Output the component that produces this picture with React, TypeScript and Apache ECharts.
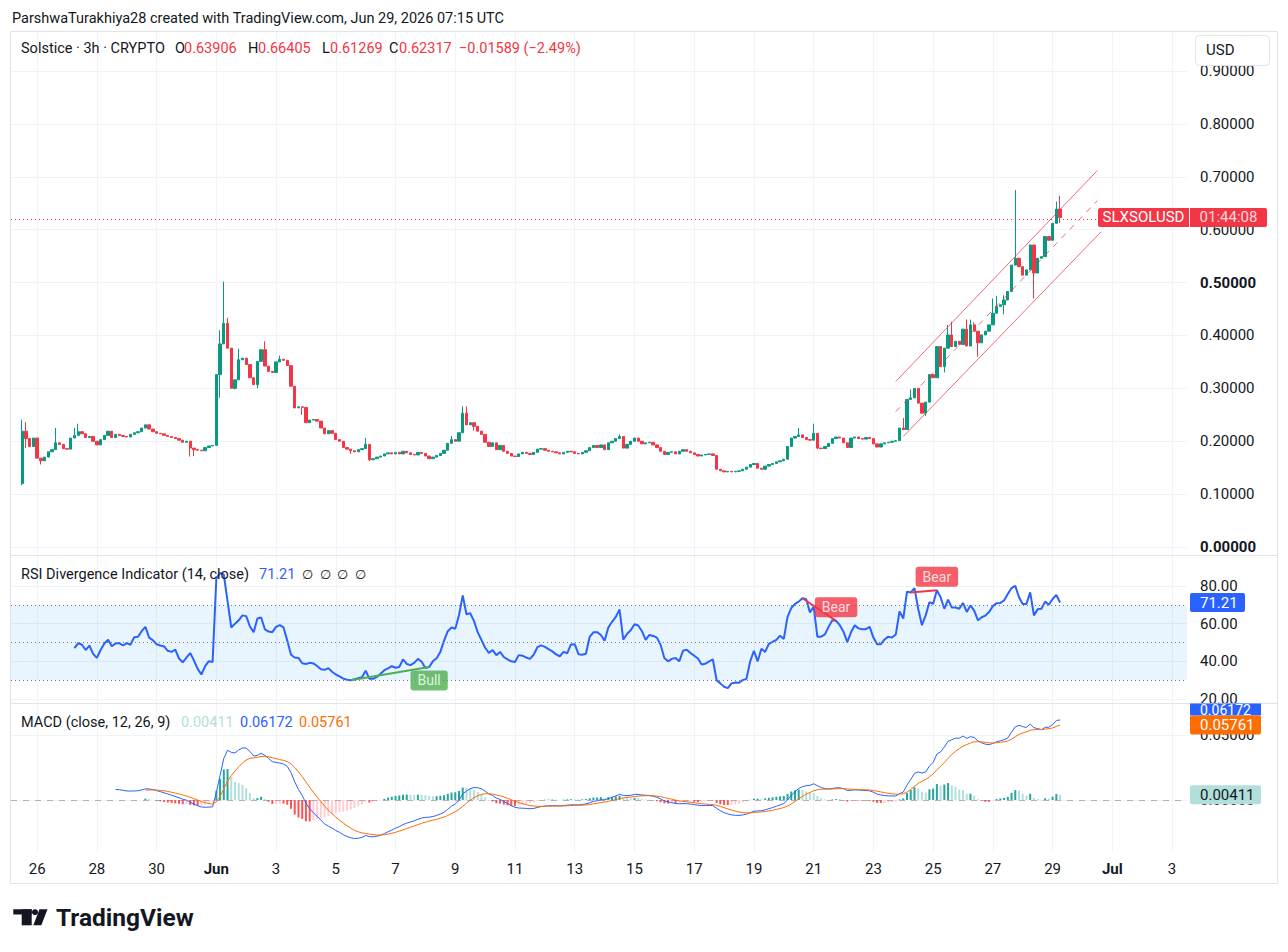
import React, { useEffect, useRef } from "react";
import * as echarts from "echarts";

const FONT = 'Roboto, "Noto Sans", "DejaVu Sans", sans-serif';
const TEXT = "#131722";
const UP = "#089981";
const DOWN = "#f23645";
const GRID = "#f0f3fa";
const BORDER = "#e0e3eb";
const BLUE = "#2962ff";
const ORANGE = "#ff6d00";

// ---- x axis: 3h bars, 3 empty slots before the first bar, empty slots after the last
const LEAD = 3;
const N_CATS = 316;
const X_TICK_FIRST = 7; // May 26 00:00
const X_TICK_STEP = 16; // 2 days of 3h bars
const X_TICK_LABELS = ["26", "28", "30", "Jun", "3", "5", "7", "9", "11", "13", "15", "17", "19", "21", "23", "25", "27", "29", "Jul", "3"];
const MONTH_LABELS = ["Jun", "Jul"];

// ---- price (3h closes, bar 0 = May 25 12:00)
const FIRST_OPEN = 0.12;
const CLOSES = [
  0.219, 0.205, 0.19, 0.206, 0.168, 0.163, 0.17, 0.18, 0.184, 0.197,
  0.194, 0.186, 0.185, 0.206, 0.211, 0.218, 0.214, 0.207, 0.209, 0.2,
  0.193, 0.203, 0.211, 0.219, 0.207, 0.213, 0.211, 0.209, 0.208, 0.213,
  0.216, 0.218, 0.225, 0.231, 0.223, 0.218, 0.215, 0.214, 0.211, 0.209,
  0.207, 0.205, 0.202, 0.198, 0.2, 0.187, 0.184, 0.183, 0.182, 0.188,
  0.191, 0.192, 0.326, 0.384, 0.423, 0.376, 0.3, 0.316, 0.354, 0.357,
  0.345, 0.32, 0.307, 0.351, 0.373, 0.342, 0.332, 0.33, 0.35, 0.355,
  0.353, 0.343, 0.304, 0.263, 0.265, 0.264, 0.235, 0.24, 0.241, 0.238,
  0.225, 0.214, 0.22, 0.215, 0.203, 0.2, 0.188, 0.185, 0.182, 0.18,
  0.184, 0.186, 0.194, 0.165, 0.167, 0.17, 0.172, 0.176, 0.178, 0.176,
  0.179, 0.176, 0.181, 0.178, 0.175, 0.174, 0.179, 0.177, 0.172, 0.167,
  0.17, 0.173, 0.177, 0.183, 0.196, 0.203, 0.2, 0.216, 0.253, 0.231,
  0.235, 0.228, 0.219, 0.213, 0.198, 0.19, 0.197, 0.184, 0.192, 0.181,
  0.177, 0.172, 0.171, 0.176, 0.179, 0.177, 0.175, 0.179, 0.185, 0.186,
  0.183, 0.181, 0.18, 0.178, 0.176, 0.179, 0.181, 0.18, 0.177, 0.176,
  0.179, 0.182, 0.188, 0.192, 0.188, 0.193, 0.184, 0.197, 0.2, 0.205,
  0.209, 0.187, 0.194, 0.2, 0.206, 0.2, 0.195, 0.197, 0.198, 0.193,
  0.188, 0.181, 0.175, 0.179, 0.18, 0.176, 0.181, 0.184, 0.181, 0.178,
  0.175, 0.172, 0.174, 0.175, 0.176, 0.173, 0.147, 0.144, 0.142, 0.143,
  0.142, 0.143, 0.144, 0.147, 0.151, 0.156, 0.158, 0.149, 0.147, 0.153,
  0.156, 0.158, 0.161, 0.163, 0.166, 0.19, 0.206, 0.209, 0.212, 0.207,
  0.203, 0.202, 0.215, 0.187, 0.186, 0.19, 0.196, 0.205, 0.208, 0.206,
  0.197, 0.188, 0.206, 0.208, 0.205, 0.204, 0.207, 0.205, 0.195, 0.189,
  0.195, 0.197, 0.198, 0.2, 0.201, 0.225, 0.222, 0.279, 0.282, 0.3,
  0.272, 0.253, 0.274, 0.326, 0.32, 0.379, 0.341, 0.376, 0.401, 0.379,
  0.389, 0.383, 0.412, 0.38, 0.42, 0.408, 0.386, 0.401, 0.408, 0.42,
  0.442, 0.455, 0.458, 0.467, 0.483, 0.533, 0.546, 0.53, 0.514, 0.524,
  0.571, 0.518, 0.546, 0.549, 0.587, 0.58, 0.612, 0.63906, 0.62317,
];
const WICK_HIGHS: [number, number][] = [
  [0, 0.241], [1, 0.236], [9, 0.225], [14, 0.225], [15, 0.233], [53, 0.41], [54, 0.502], [55, 0.433],
  [58, 0.375], [65, 0.389], [69, 0.362], [92, 0.206], [115, 0.21], [118, 0.266], [119, 0.266],
  [160, 0.213], [208, 0.225], [212, 0.233], [236, 0.244], [238, 0.298], [248, 0.42], [249, 0.426],
  [253, 0.43], [254, 0.43], [255, 0.425], [260, 0.47], [261, 0.475], [263, 0.476], [266, 0.675],
  [277, 0.653], [278, 0.66405],
];
const WICK_LOWS: [number, number][] = [
  [0, 0.117], [1, 0.187], [5, 0.156], [45, 0.171], [46, 0.172], [53, 0.282], [57, 0.298], [63, 0.3],
  [75, 0.25], [88, 0.176], [93, 0.162], [121, 0.22], [213, 0.185], [242, 0.248], [247, 0.33],
  [256, 0.36], [263, 0.44], [271, 0.47], [278, 0.61269],
];

// ---- RSI (14), first value at bar 14
const RSI_START = 14;
const RSI_VALUES = [
  47, 49.7, 48.8, 46, 48.4, 44, 41.8, 46, 49.5, 51.5,
  48, 49.5, 49.7, 48.4, 49.7, 48.8, 52.8, 53, 56, 58.3,
  52.6, 51.2, 49.1, 48.4, 47.9, 45.6, 45, 46.2, 41.5, 39.5,
  42, 44.4, 40.5, 36, 33, 37.5, 40.1, 39.7,
  84, 87, 86, 72, 58,
  60, 61.8, 64.4, 64, 58.5, 55.5, 62.7, 63.3, 57, 55.8,
  55.5, 58.3, 59.2, 58, 51, 43.5, 42, 41.8, 39, 38.6,
  39.2, 38.9, 37.5, 35.8, 35.5, 36.4, 34.5, 33, 32, 30.8,
  30.2, 30, 30.5, 31, 31.5, 35, 30.8, 30.7, 31.7, 33.4,
  35.3, 36.3, 37.4, 36.6, 37, 41, 38.6, 38, 39.2, 41.3,
  39.8, 36.5, 37, 40, 41.6, 45, 51, 56, 58, 57.3,
  64.5, 75, 65, 65.5, 61.5, 55.5, 51.4, 47.2, 44.5, 46,
  43.3, 45, 42.3, 41, 40, 39.7, 43.3, 43, 42, 41.3,
  43.5, 47.5, 48.5, 47.7, 46.5, 45.3, 43.7, 42.7, 45, 44.3,
  49, 49.1, 43.8, 43.5, 44, 53, 55.4, 55.5, 54, 51,
  58, 61, 63.6, 67.5, 51.5, 54.5, 56.5, 59.7, 59, 56,
  51.4, 54, 53.5, 52.6, 48.8, 41.8, 40, 41.3, 41.8, 40,
  45.6, 46.2, 44.4, 43, 41.5, 38.3, 38.7, 40, 41, 30,
  28.3, 26.5, 25.8, 28.3, 28.8, 28.6, 30, 30.7, 40, 45.6,
  40, 46.7, 45, 49.3, 50.3, 51.4, 53.6, 51.9, 63.6, 68.3,
  70.5, 71.7, 73.5, 73, 66, 69, 53, 53.1, 54.3, 58.3,
  61.8, 61.5, 59.2, 55.7, 50.2, 55.4, 59.2, 57.5, 57, 57.1,
  58.3, 52.6, 49.1, 49.1, 51.6, 53.1, 52.6, 54.3, 66.5, 62.7,
  77, 76.6, 78.9, 67.9, 59.2, 64.4, 71.4, 70.5, 77.8, 74,
  67.9, 72.8, 68.6, 68.6, 67.9, 71, 66.2, 69.7, 66.9, 61.8,
  63.4, 64.3, 66.2, 69.3, 70.9, 71, 72.3, 75.7, 78.9, 80.1,
  74, 70.5, 70.5, 76.6, 64.4, 67.6, 67.9, 71.7, 70, 73.1,
  75.2, 71.21,
];

// ---- drawings (bar index, value)
const CHANNEL_UPPER: [number, number][] = [[234, 0.313], [288, 0.712]];
const CHANNEL_MID: [number, number][] = [[234, 0.256], [288, 0.655]];
const CHANNEL_LOWER: [number, number][] = [[236, 0.209], [289, 0.596]];
const BULL_DIV: [number, number][] = [[88, 30], [109, 37]];
const BEAR_DIV_1: [number, number][] = [[209, 73.5], [218, 61.5]];
const BEAR_DIV_2: [number, number][] = [[238, 76.6], [245, 77.8]];

// ---- legend values
const LAST_OHLC = { o: "0.63906", h: "0.66405", l: "0.61269", c: "0.62317", chg: "−0.01589 (−2.49%)" };
const LAST_CLOSE = 0.62317;
const RSI_LAST = 71.21;
const MACD_LAST = { hist: 0.00411, macd: 0.06172, signal: 0.05761 };

function ema(src: (number | null)[], len: number): (number | null)[] {
  const out: (number | null)[] = src.map(() => null);
  const a = 2 / (len + 1);
  let prev: number | null = null;
  const buf: number[] = [];
  src.forEach((v, i) => {
    if (v == null) return;
    if (prev == null) {
      buf.push(v);
      if (buf.length === len) {
        prev = buf.reduce((s, x) => s + x, 0) / len;
        out[i] = prev;
      }
    } else {
      prev = a * v + (1 - a) * prev;
      out[i] = prev;
    }
  });
  return out;
}

function isTick(k: number) {
  return k >= X_TICK_FIRST && (k - X_TICK_FIRST) % X_TICK_STEP === 0 && (k - X_TICK_FIRST) / X_TICK_STEP < X_TICK_LABELS.length;
}

export default function App() {
  const ref = useRef<HTMLDivElement>(null);

  useEffect(() => {
    document.body.style.margin = "0";
    const el = ref.current!;
    const chart = echarts.init(el, undefined, { renderer: "svg" });

    const cats = Array.from({ length: N_CATS }, (_, k) => String(k));
    const hiMap = new Map(WICK_HIGHS);
    const loMap = new Map(WICK_LOWS);
    const candles = CLOSES.map((c, i) => {
      const o = i === 0 ? FIRST_OPEN : CLOSES[i - 1];
      const h = Math.max(o, c, hiMap.get(i) ?? 0);
      const l = Math.min(o, c, loMap.get(i) ?? 99);
      return [i + LEAD, o, c, l, h];
    });

    const rsiData = RSI_VALUES.map((v, j) => [RSI_START + j + LEAD, v]);

    const fast = ema(CLOSES, 12);
    const slow = ema(CLOSES, 26);
    const macd = CLOSES.map((_, i) => (fast[i] != null && slow[i] != null ? (fast[i] as number) - (slow[i] as number) : null));
    const signal = ema(macd, 9);
    const hist = macd.map((m, i) => (m != null && signal[i] != null ? m - (signal[i] as number) : null));
    const macdData = macd.map((v, i) => (v == null ? null : [i + LEAD, v])).filter(Boolean);
    const sigData = signal.map((v, i) => (v == null ? null : [i + LEAD, v])).filter(Boolean);
    const histData: any[] = [];
    hist.forEach((h, i) => {
      if (h == null) return;
      const p = hist[i - 1];
      let color: string;
      if (h >= 0) color = p == null || h > p ? "#26a69a" : "#b2dfdb";
      else color = p == null || h < p ? "#ff5252" : "#ffcdd2";
      histData.push({ value: [i + LEAD, h], itemStyle: { color } });
    });

    const shift = (pts: [number, number][]) => pts.map(([i, v]) => [i + LEAD, v]);

    const gridBase = { left: 11, width: 1176 };
    const hiddenX = (gi: number) => ({
      gridIndex: gi, type: "category", data: cats, boundaryGap: false, show: false,
    });
    const axisLabel = { color: TEXT, fontSize: 15, fontFamily: FONT, margin: 13, align: "left" };

    const option: any = {
      animation: false,
      backgroundColor: "#ffffff",
      textStyle: { fontFamily: FONT },
      grid: [
        { ...gridBase, top: 32, height: 820 },
        { ...gridBase, top: 71, height: 476 },
        { ...gridBase, top: 586, height: 113 },
        { ...gridBase, top: 735, height: 65 },
      ],
      xAxis: [
        {
          gridIndex: 0, type: "category", data: cats, boundaryGap: false,
          axisLine: { show: false }, axisTick: { show: false },
          axisLabel: {
            interval: (k: number) => isTick(k),
            formatter: (_v: string, k: number) => {
              if (!isTick(k)) return "";
              const s = X_TICK_LABELS[(k - X_TICK_FIRST) / X_TICK_STEP];
              return MONTH_LABELS.includes(s) ? `{m|${s}}` : s;
            },
            color: TEXT, fontSize: 15, fontFamily: FONT, margin: 9,
            rich: { m: { fontWeight: "bold", fontSize: 15, color: TEXT, fontFamily: FONT } },
          },
          splitLine: { show: true, interval: (k: number) => isTick(k), lineStyle: { color: GRID, width: 1 } },
        },
        hiddenX(1), hiddenX(2), hiddenX(3),
      ],
      yAxis: [
        { gridIndex: 0, type: "value", min: 0, max: 1, show: false },
        {
          gridIndex: 1, type: "value", position: "right", min: 0, max: 0.9, interval: 0.1,
          axisLine: { show: false }, axisTick: { show: false },
          axisLabel: {
            ...axisLabel,
            formatter: (v: number) => {
              const s = v.toFixed(5);
              return Math.abs(v - 0.5) < 1e-9 || Math.abs(v) < 1e-9 ? `{b|${s}}` : s;
            },
            rich: { b: { fontWeight: "bold", fontSize: 15, color: TEXT, fontFamily: FONT } },
          },
          splitLine: { lineStyle: { color: GRID } },
        },
        {
          gridIndex: 2, type: "value", position: "right", min: 20, max: 80, interval: 20,
          axisLine: { show: false }, axisTick: { show: false },
          axisLabel: { ...axisLabel, formatter: (v: number) => v.toFixed(2) },
          splitLine: { lineStyle: { color: GRID } },
        },
        {
          gridIndex: 3, type: "value", position: "right", min: 0, max: 0.05, interval: 0.05,
          axisLine: { show: false }, axisTick: { show: false },
          axisLabel: { ...axisLabel, formatter: (v: number) => v.toFixed(5) },
          splitLine: { lineStyle: { color: GRID } },
        },
      ],
      series: [
        {
          type: "candlestick", xAxisIndex: 1, yAxisIndex: 1, data: candles,
          encode: { x: 0, y: [1, 2, 3, 4] }, barWidth: 2.8,
          itemStyle: { color: UP, color0: DOWN, borderColor: UP, borderColor0: DOWN, borderWidth: 1 },
          markLine: {
            silent: true, symbol: ["none", "none"], label: { show: false },
            lineStyle: { color: DOWN, type: [1, 3], width: 1 },
            data: [{ yAxis: LAST_CLOSE }],
          },
        },
        ...[CHANNEL_UPPER, CHANNEL_MID, CHANNEL_LOWER].map((pts, n) => ({
          type: "line", xAxisIndex: 1, yAxisIndex: 1, data: shift(pts), symbol: "none", silent: true, z: 4,
          lineStyle: { color: "rgba(242,54,69,0.75)", width: 1, type: n === 1 ? [6, 6] : "solid" },
        })),
        {
          type: "line", xAxisIndex: 2, yAxisIndex: 2, data: rsiData, symbol: "none", clip: false, z: 3,
          lineStyle: { color: BLUE, width: 2 },
          markArea: { silent: true, itemStyle: { color: "rgba(33,150,243,0.1)" }, data: [[{ yAxis: 30 }, { yAxis: 70 }]] },
          markLine: {
            silent: true, symbol: ["none", "none"], label: { show: false },
            lineStyle: { color: "#787b86", type: [1, 3], width: 1 },
            data: [{ yAxis: 70 }, { yAxis: 50 }, { yAxis: 30 }],
          },
        },
        { type: "line", xAxisIndex: 2, yAxisIndex: 2, data: shift(BULL_DIV), symbol: "none", clip: false, z: 4, lineStyle: { color: "#4caf50", width: 2 } },
        { type: "line", xAxisIndex: 2, yAxisIndex: 2, data: shift(BEAR_DIV_1), symbol: "none", clip: false, z: 4, lineStyle: { color: DOWN, width: 2 } },
        { type: "line", xAxisIndex: 2, yAxisIndex: 2, data: shift(BEAR_DIV_2), symbol: "none", clip: false, z: 4, lineStyle: { color: DOWN, width: 2 } },
        {
          type: "scatter", xAxisIndex: 2, yAxisIndex: 2, symbolSize: 1, clip: false, z: 6, silent: true,
          itemStyle: { color: "rgba(0,0,0,0)" },
          label: { show: true, color: "#ffffff", fontSize: 14, fontFamily: FONT, padding: [3, 7, 3, 7], borderRadius: 3, distance: 3 },
          data: [
            { value: shift(BULL_DIV)[1], label: { formatter: "Bull", position: "bottom", backgroundColor: "#4caf50" } },
            { value: shift(BEAR_DIV_1)[1], label: { formatter: "Bear", position: "top", backgroundColor: DOWN } },
            { value: shift(BEAR_DIV_2)[1], label: { formatter: "Bear", position: "top", backgroundColor: DOWN } },
          ],
        },
        {
          type: "bar", xAxisIndex: 3, yAxisIndex: 3, data: histData, barWidth: 2, clip: false,
          markLine: {
            silent: true, symbol: ["none", "none"], label: { show: false },
            lineStyle: { color: "rgba(120,123,134,0.55)", type: [6, 6], width: 1 },
            data: [{ yAxis: 0 }],
          },
        },
        { type: "line", xAxisIndex: 3, yAxisIndex: 3, data: macdData, symbol: "none", clip: false, z: 4, lineStyle: { color: BLUE, width: 1 } },
        { type: "line", xAxisIndex: 3, yAxisIndex: 3, data: sigData, symbol: "none", clip: false, z: 4, lineStyle: { color: ORANGE, width: 1 } },
      ],
    };

    chart.setOption(option);

    const py = (grid: number, v: number) => (chart.convertToPixel({ gridIndex: grid } as any, [0, v]) as number[])[1];
    const HF = 14.5;
    const T = (x: number, y: number, text: string, fill: string, size = HF, weight = "normal", align = "left", z = 110) => ({
      type: "text", x, y, z, silent: true,
      style: { text, fill, font: `${weight} ${size}px ${FONT}`, align, verticalAlign: "middle" },
    });
    const R = (x: number, y: number, w: number, h: number, fill: string, r: any = 2, z = 105, stroke?: string) => ({
      type: "rect", z, silent: true, shape: { x, y, width: w, height: h, r },
      style: stroke ? { fill, stroke, lineWidth: 1 } : { fill },
    });
    const L = (x1: number, y1: number, x2: number, y2: number, stroke = BORDER, z = 100) => ({
      type: "line", z, silent: true, shape: { x1, y1, x2, y2 }, style: { stroke, lineWidth: 1 },
    });

    const yP = py(1, LAST_CLOSE);
    const yR = py(2, RSI_LAST);
    const yH = py(3, MACD_LAST.hist);
    const yS = py(3, MACD_LAST.signal);
    const BH = 19;
    const blueTop = 703.5;
    const blueBottom = yS - BH / 2;

    const g: any[] = [
      T(12, 18, "ParshwaTurakhiya28 created with TradingView.com, Jun 29, 2026 07:15 UTC", TEXT),
      { type: "rect", z: 100, silent: true, shape: { x: 10.5, y: 31.5, width: 1267, height: 852 }, style: { fill: "none", stroke: BORDER, lineWidth: 1 } },
      L(10.5, 555.5, 1277.5, 555.5),
      L(10.5, 703.5, 1277.5, 703.5),
      // price legend
      T(21, 48, "Solstice · 3h · CRYPTO", TEXT),
      T(175, 48, "O", TEXT), T(184, 48, LAST_OHLC.o, DOWN),
      T(248, 48, "H", TEXT), T(258, 48, LAST_OHLC.h, DOWN),
      T(322, 48, "L", TEXT), T(330, 48, LAST_OHLC.l, DOWN),
      T(389, 48, "C", TEXT), T(399, 48, LAST_OHLC.c, DOWN),
      T(459, 48, LAST_OHLC.chg, DOWN),
      R(1195.5, 35.5, 74, 30, "#ffffff", 4, 120, BORDER),
      T(1206, 50, "USD", TEXT, 15, "normal", "left", 121),
      // last price labels
      R(1098, yP - BH / 2, 91, BH, DOWN, [2, 0, 0, 2], 120),
      T(1143.5, yP, "SLXSOLUSD", "#ffffff", 15, "normal", "center", 121),
      R(1190, yP - BH / 2, 77, BH, DOWN, [0, 2, 2, 0], 120),
      T(1228.5, yP, "01:44:08", "rgba(255,255,255,0.82)", 15, "normal", "center", 121),
      // RSI legend
      T(21, 574, "RSI Divergence Indicator (14, close)", TEXT),
      T(259, 574, RSI_LAST.toFixed(2), BLUE),
      ...[302, 320, 337, 355].map((x) => T(x, 574, "∅", TEXT, 13)),
      R(1190, yR - BH / 2, 55, BH, BLUE, 2, 120),
      T(1200, yR, RSI_LAST.toFixed(2), "#ffffff", 15, "normal", "left", 121),
      // MACD legend
      T(21, 722, "MACD (close, 12, 26, 9)", TEXT),
      T(181, 722, MACD_LAST.hist.toFixed(5), "#b2dfdb"),
      T(240, 722, MACD_LAST.macd.toFixed(5), BLUE),
      T(299, 722, MACD_LAST.signal.toFixed(5), ORANGE),
      R(1190, yH - BH / 2, 71, BH, "#b2dfdb", 2, 120),
      T(1200, yH, MACD_LAST.hist.toFixed(5), TEXT, 15, "normal", "left", 121),
      R(1190, blueTop, 71, blueBottom - blueTop, BLUE, [0, 0, 0, 0], 120),
      T(1200, (blueTop + blueBottom) / 2 + 0.5, MACD_LAST.macd.toFixed(5), "#ffffff", 14, "normal", "left", 121),
      R(1190, yS - BH / 2, 71, BH, ORANGE, 2, 120),
      T(1200, yS, MACD_LAST.signal.toFixed(5), "#ffffff", 15, "normal", "left", 121),
      // TradingView logo
      { type: "rect", z: 110, silent: true, shape: { x: 13.3, y: 909.3, width: 18.4, height: 5.2 }, style: { fill: TEXT } },
      { type: "rect", z: 110, silent: true, shape: { x: 21.7, y: 909.3, width: 10, height: 16 }, style: { fill: TEXT } },
      { type: "circle", z: 110, silent: true, shape: { cx: 35, cy: 912.2, r: 3 }, style: { fill: TEXT } },
      { type: "polygon", z: 110, silent: true, shape: { points: [[39.5, 909.3], [47.5, 909.3], [41.3, 925.3], [33.3, 925.3]] }, style: { fill: TEXT } },
      T(56, 917, "TradingView", TEXT, 24.5, "bold", "left"),
    ];
    chart.setOption({ graphic: g });

    return () => chart.dispose();
  }, []);

  return <div ref={ref} style={{ width: 1288, height: 952 }} />;
}
